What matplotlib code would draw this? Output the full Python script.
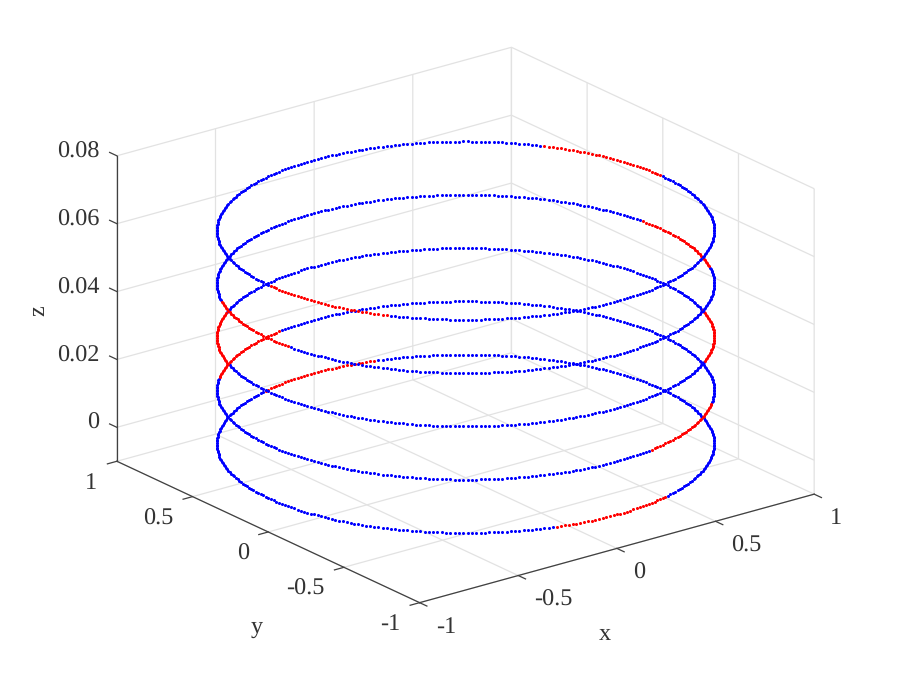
import numpy as np
import matplotlib
matplotlib.use("Agg")
import matplotlib.pyplot as plt
from mpl_toolkits.mplot3d import proj3d

# one ring, one value per degree
circle_x = [
    1.000, 1.000, 0.999, 0.999, 0.998, 0.996, 0.995, 0.993, 0.990, 0.988,
    0.985, 0.982, 0.978, 0.974, 0.970, 0.966, 0.961, 0.956, 0.951, 0.946,
    0.940, 0.934, 0.927, 0.921, 0.914, 0.906, 0.899, 0.891, 0.883, 0.875,
    0.866, 0.857, 0.848, 0.839, 0.829, 0.819, 0.809, 0.799, 0.788, 0.777,
    0.766, 0.755, 0.743, 0.731, 0.719, 0.707, 0.695, 0.682, 0.669, 0.656,
    0.643, 0.629, 0.616, 0.602, 0.588, 0.574, 0.559, 0.545, 0.530, 0.515,
    0.500, 0.485, 0.469, 0.454, 0.438, 0.423, 0.407, 0.391, 0.375, 0.358,
    0.342, 0.326, 0.309, 0.292, 0.276, 0.259, 0.242, 0.225, 0.208, 0.191,
    0.174, 0.156, 0.139, 0.122, 0.105, 0.087, 0.070, 0.052, 0.035, 0.017,
    0.000, -0.017, -0.035, -0.052, -0.070, -0.087, -0.105, -0.122, -0.139, -0.156,
    -0.174, -0.191, -0.208, -0.225, -0.242, -0.259, -0.276, -0.292, -0.309, -0.326,
    -0.342, -0.358, -0.375, -0.391, -0.407, -0.423, -0.438, -0.454, -0.469, -0.485,
    -0.500, -0.515, -0.530, -0.545, -0.559, -0.574, -0.588, -0.602, -0.616, -0.629,
    -0.643, -0.656, -0.669, -0.682, -0.695, -0.707, -0.719, -0.731, -0.743, -0.755,
    -0.766, -0.777, -0.788, -0.799, -0.809, -0.819, -0.829, -0.839, -0.848, -0.857,
    -0.866, -0.875, -0.883, -0.891, -0.899, -0.906, -0.914, -0.921, -0.927, -0.934,
    -0.940, -0.946, -0.951, -0.956, -0.961, -0.966, -0.970, -0.974, -0.978, -0.982,
    -0.985, -0.988, -0.990, -0.993, -0.995, -0.996, -0.998, -0.999, -0.999, -1.000,
    -1.000, -1.000, -0.999, -0.999, -0.998, -0.996, -0.995, -0.993, -0.990, -0.988,
    -0.985, -0.982, -0.978, -0.974, -0.970, -0.966, -0.961, -0.956, -0.951, -0.946,
    -0.940, -0.934, -0.927, -0.921, -0.914, -0.906, -0.899, -0.891, -0.883, -0.875,
    -0.866, -0.857, -0.848, -0.839, -0.829, -0.819, -0.809, -0.799, -0.788, -0.777,
    -0.766, -0.755, -0.743, -0.731, -0.719, -0.707, -0.695, -0.682, -0.669, -0.656,
    -0.643, -0.629, -0.616, -0.602, -0.588, -0.574, -0.559, -0.545, -0.530, -0.515,
    -0.500, -0.485, -0.469, -0.454, -0.438, -0.423, -0.407, -0.391, -0.375, -0.358,
    -0.342, -0.326, -0.309, -0.292, -0.276, -0.259, -0.242, -0.225, -0.208, -0.191,
    -0.174, -0.156, -0.139, -0.122, -0.105, -0.087, -0.070, -0.052, -0.035, -0.017,
    0.000, 0.017, 0.035, 0.052, 0.070, 0.087, 0.105, 0.122, 0.139, 0.156,
    0.174, 0.191, 0.208, 0.225, 0.242, 0.259, 0.276, 0.292, 0.309, 0.326,
    0.342, 0.358, 0.375, 0.391, 0.407, 0.423, 0.438, 0.454, 0.469, 0.485,
    0.500, 0.515, 0.530, 0.545, 0.559, 0.574, 0.588, 0.602, 0.616, 0.629,
    0.643, 0.656, 0.669, 0.682, 0.695, 0.707, 0.719, 0.731, 0.743, 0.755,
    0.766, 0.777, 0.788, 0.799, 0.809, 0.819, 0.829, 0.839, 0.848, 0.857,
    0.866, 0.875, 0.883, 0.891, 0.899, 0.906, 0.914, 0.921, 0.927, 0.934,
    0.940, 0.946, 0.951, 0.956, 0.961, 0.966, 0.970, 0.974, 0.978, 0.982,
    0.985, 0.988, 0.990, 0.993, 0.995, 0.996, 0.998, 0.999, 0.999, 1.000,
]
circle_y = [
    0.000, 0.017, 0.035, 0.052, 0.070, 0.087, 0.105, 0.122, 0.139, 0.156,
    0.174, 0.191, 0.208, 0.225, 0.242, 0.259, 0.276, 0.292, 0.309, 0.326,
    0.342, 0.358, 0.375, 0.391, 0.407, 0.423, 0.438, 0.454, 0.469, 0.485,
    0.500, 0.515, 0.530, 0.545, 0.559, 0.574, 0.588, 0.602, 0.616, 0.629,
    0.643, 0.656, 0.669, 0.682, 0.695, 0.707, 0.719, 0.731, 0.743, 0.755,
    0.766, 0.777, 0.788, 0.799, 0.809, 0.819, 0.829, 0.839, 0.848, 0.857,
    0.866, 0.875, 0.883, 0.891, 0.899, 0.906, 0.914, 0.921, 0.927, 0.934,
    0.940, 0.946, 0.951, 0.956, 0.961, 0.966, 0.970, 0.974, 0.978, 0.982,
    0.985, 0.988, 0.990, 0.993, 0.995, 0.996, 0.998, 0.999, 0.999, 1.000,
    1.000, 1.000, 0.999, 0.999, 0.998, 0.996, 0.995, 0.993, 0.990, 0.988,
    0.985, 0.982, 0.978, 0.974, 0.970, 0.966, 0.961, 0.956, 0.951, 0.946,
    0.940, 0.934, 0.927, 0.921, 0.914, 0.906, 0.899, 0.891, 0.883, 0.875,
    0.866, 0.857, 0.848, 0.839, 0.829, 0.819, 0.809, 0.799, 0.788, 0.777,
    0.766, 0.755, 0.743, 0.731, 0.719, 0.707, 0.695, 0.682, 0.669, 0.656,
    0.643, 0.629, 0.616, 0.602, 0.588, 0.574, 0.559, 0.545, 0.530, 0.515,
    0.500, 0.485, 0.469, 0.454, 0.438, 0.423, 0.407, 0.391, 0.375, 0.358,
    0.342, 0.326, 0.309, 0.292, 0.276, 0.259, 0.242, 0.225, 0.208, 0.191,
    0.174, 0.156, 0.139, 0.122, 0.105, 0.087, 0.070, 0.052, 0.035, 0.017,
    0.000, -0.017, -0.035, -0.052, -0.070, -0.087, -0.105, -0.122, -0.139, -0.156,
    -0.174, -0.191, -0.208, -0.225, -0.242, -0.259, -0.276, -0.292, -0.309, -0.326,
    -0.342, -0.358, -0.375, -0.391, -0.407, -0.423, -0.438, -0.454, -0.469, -0.485,
    -0.500, -0.515, -0.530, -0.545, -0.559, -0.574, -0.588, -0.602, -0.616, -0.629,
    -0.643, -0.656, -0.669, -0.682, -0.695, -0.707, -0.719, -0.731, -0.743, -0.755,
    -0.766, -0.777, -0.788, -0.799, -0.809, -0.819, -0.829, -0.839, -0.848, -0.857,
    -0.866, -0.875, -0.883, -0.891, -0.899, -0.906, -0.914, -0.921, -0.927, -0.934,
    -0.940, -0.946, -0.951, -0.956, -0.961, -0.966, -0.970, -0.974, -0.978, -0.982,
    -0.985, -0.988, -0.990, -0.993, -0.995, -0.996, -0.998, -0.999, -0.999, -1.000,
    -1.000, -1.000, -0.999, -0.999, -0.998, -0.996, -0.995, -0.993, -0.990, -0.988,
    -0.985, -0.982, -0.978, -0.974, -0.970, -0.966, -0.961, -0.956, -0.951, -0.946,
    -0.940, -0.934, -0.927, -0.921, -0.914, -0.906, -0.899, -0.891, -0.883, -0.875,
    -0.866, -0.857, -0.848, -0.839, -0.829, -0.819, -0.809, -0.799, -0.788, -0.777,
    -0.766, -0.755, -0.743, -0.731, -0.719, -0.707, -0.695, -0.682, -0.669, -0.656,
    -0.643, -0.629, -0.616, -0.602, -0.588, -0.574, -0.559, -0.545, -0.530, -0.515,
    -0.500, -0.485, -0.469, -0.454, -0.438, -0.423, -0.407, -0.391, -0.375, -0.358,
    -0.342, -0.326, -0.309, -0.292, -0.276, -0.259, -0.242, -0.225, -0.208, -0.191,
    -0.174, -0.156, -0.139, -0.122, -0.105, -0.087, -0.070, -0.052, -0.035, -0.017,
]

# height of the five rings, bottom to top
ring_z = [0.0, 0.0157, 0.0314, 0.0471, 0.0628]

# red arcs of each ring, first and last degree
red_arcs = [
    [(74, 106), (254, 286)],
    [(101, 134), (281, 314)],
    [(127, 160), (307, 340)],
    [(0, 7), (154, 187), (334, 359)],
    [(1, 34), (181, 214)],
]

xy_ticks = [-1, -0.5, 0, 0.5, 1]
xy_tick_labels = ["-1", "-0.5", "0", "0.5", "1"]
z_ticks = [0, 0.02, 0.04, 0.06, 0.08]
z_tick_labels = ["0", "0.02", "0.04", "0.06", "0.08"]

plt.rcParams["font.family"] = ["Liberation Serif", "DejaVu Serif"]
plt.rcParams["text.hinting"] = "no_hinting"
text_color = "#333333"
grid_color = "#e2e2e2"
axis_color = "#404040"
fs = 17.5

fig = plt.figure(figsize=(9, 6.75), dpi=100)
ax = fig.add_axes([118.9 / 900, 3.4 / 675, 675 / 900, 1.0], projection="3d")
ax.set_proj_type("ortho")
ax.view_init(elev=21, azim=-127.5)
ax.set_box_aspect((497, 497, 327), zoom=1.1156)

circle_x = np.array(circle_x)
circle_y = np.array(circle_y)
for z, arcs in zip(ring_z, red_arcs):
    is_red = np.zeros(len(circle_x), dtype=bool)
    for first, last in arcs:
        is_red[first:last + 1] = True
    zs = np.full(len(circle_x), z)
    ax.plot(circle_x[~is_red], circle_y[~is_red], zs[~is_red], "o", color="#0000ff", ms=2.2, mew=0)
    ax.plot(circle_x[is_red], circle_y[is_red], zs[is_red], "o", color="#ff0000", ms=2.2, mew=0)

ax.set_xlim(-1, 1)
ax.set_ylim(-1, 1)
ax.set_zlim(-0.01, 0.08)
ax.set_xticks(xy_ticks, labels=[""] * 5)
ax.set_yticks(xy_ticks, labels=[""] * 5)
ax.set_zticks(z_ticks, labels=[""] * 5)

for axis in (ax.xaxis, ax.yaxis, ax.zaxis):
    axis.set_pane_color((1, 1, 1, 0))
    axis.pane.set_edgecolor(grid_color)
    axis.line.set_color(axis_color)
    axis.line.set_linewidth(0.9)
    axis._axinfo["grid"].update(color=grid_color, linewidth=0.9)
    axis._axinfo["tick"].update(color=axis_color, inward_factor=0.0, outward_factor=-0.3, linewidth={True: 0.9, False: 0.9})

ax.tick_params(axis="both", color=axis_color)
ax.zaxis.set_ticks_position("upper")
ax.zaxis._get_tickdir = lambda pos: 1  # z ticks run along y, not x
ax.zaxis._axinfo["tick"]["outward_factor"] = 0.3

fig.canvas.draw()  # needed so transData is final before projecting


def put_text(x, y, z, dx, dy, s, **kw):
    # text in figure coords, dx/dy in pixels from the projected point (dy down)
    u, v, _ = proj3d.proj_transform(x, y, z, ax.get_proj())
    px, py = ax.transData.transform((u, v))
    fig.text((px + dx) / 900, (py - dy) / 675, s, fontsize=fs, color=text_color, va="center", **kw)


for v, lab in zip(xy_ticks, xy_tick_labels):
    put_text(v, -1, -0.01, 16, 24.5, lab, ha="left")
    put_text(-1, v, -0.01, -19.5, 22, lab, ha="right")
for v, lab in zip(z_ticks, z_tick_labels):
    put_text(-1, 1, v, -17.5, -4, lab, ha="right")

put_text(0, -1, -0.01, -12, 85.5, "x", ha="center")
put_text(-1, 0, -0.01, -11.5, 95, "y", ha="center")
put_text(-1, 1, 0.035, -78, 2, "z", ha="center", rotation=90)

fig.savefig("out.png", dpi=100)
